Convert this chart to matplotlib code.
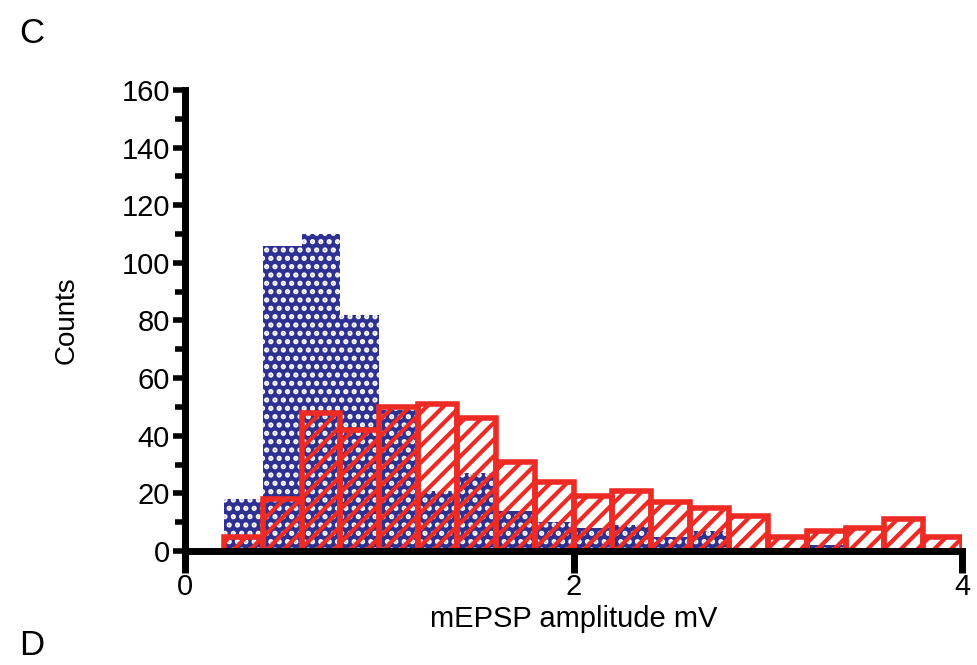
import matplotlib.pyplot as plt
from matplotlib.ticker import MultipleLocator

plt.rcParams['font.family'] = ['Liberation Sans', 'DejaVu Sans']

# bin left edges (mV), bin width 0.2
bin_left = [0.2, 0.4, 0.6, 0.8, 1.0, 1.2, 1.4, 1.6, 1.8, 2.0,
            2.2, 2.4, 2.6, 2.8, 3.0, 3.2, 3.4, 3.6, 3.8]
blue_counts = [18, 106, 110, 82, 49, 21, 27, 14, 10, 8,
               9, 5, 7, 0, 1, 2, 0, 0, 0]
red_counts = [5, 18, 48, 42, 50, 51, 46, 31, 24, 19,
              21, 17, 15, 12, 5, 7, 8, 11, 5]
x_ticks = [0, 2, 4]
y_ticks = [0, 20, 40, 60, 80, 100, 120, 140, 160]

blue = '#2e3192'
red = '#ee2a24'
w = 0.2

fig = plt.figure(figsize=(9.77, 6.65), dpi=100)
ax = fig.add_axes([0.1894, 0.1714, 0.7953, 0.6933])

# blue: solid fill + white dot pattern
ax.bar(bin_left, blue_counts, width=w, align='edge', color=blue, linewidth=0)
plt.rcParams['hatch.linewidth'] = 2.5
ax.bar(bin_left, blue_counts, width=w, align='edge', facecolor='none',
       edgecolor='white', linewidth=0, hatch='..')

# red: transparent, red diagonal hatch, thick outline
plt.rcParams['hatch.linewidth'] = 3.0
ax.bar(bin_left, red_counts, width=w, align='edge', facecolor='none',
       edgecolor=red, linewidth=4, hatch='//', zorder=3)

ax.set_xlim(0, 4)
ax.set_ylim(0, 160)
ax.set_xticks(x_ticks)
ax.set_yticks(y_ticks)
ax.yaxis.set_minor_locator(MultipleLocator(10))

for s in ['top', 'right']:
    ax.spines[s].set_visible(False)
for s in ['left', 'bottom']:
    ax.spines[s].set_linewidth(5)
    ax.spines[s].set_zorder(4)
ax.spines['left'].set_bounds(-3, 160)

ax.tick_params(axis='y', which='major', length=9, width=4, labelsize=21, pad=2)
ax.tick_params(axis='y', which='minor', length=7, width=4)
ax.tick_params(axis='x', which='major', length=16, width=5, labelsize=21, pad=0)

ax.set_ylabel('Counts', fontsize=20, labelpad=30)
ax.set_xlabel('mEPSP amplitude mV', fontsize=21, labelpad=3)

fig.text(0.02, 0.935, 'C', fontsize=25)
fig.text(0.02, 0.015, 'D', fontsize=25)

fig.savefig('out.png', dpi=100)
